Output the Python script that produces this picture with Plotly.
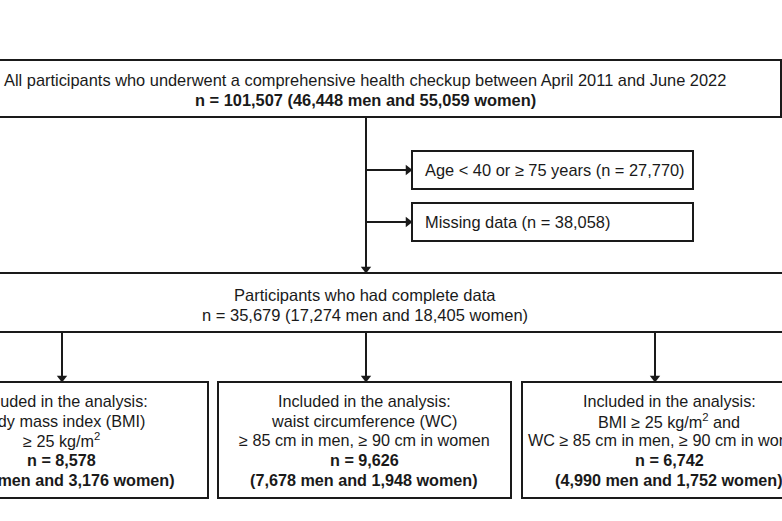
import plotly.graph_objects as go

# ---- content ----
top_lines = ["All participants who underwent a comprehensive health checkup between April 2011 and June 2022",
             "<b>n = 101,507 (46,448 men and 55,059 women)</b>"]
excl_labels = ["Age < 40 or ≥ 75 years (n = 27,770)", "Missing data (n = 38,058)"]
mid_lines = ["Participants who had complete data",
             "n = 35,679 (17,274 men and 18,405 women)"]
group_lines = [
    ["Included in the analysis:", "Body mass index (BMI)", "≥ 25 kg/m<sup>2</sup>",
     "<b>n = 8,578</b>", "<b>(5,402 men and 3,176 women)</b>"],
    ["Included in the analysis:", "waist circumference (WC)", "≥ 85 cm in men, ≥ 90 cm in women",
     "<b>n = 9,626</b>", "<b>(7,678 men and 1,948 women)</b>"],
    ["Included in the analysis:", "BMI ≥ 25 kg/m<sup>2</sup> and", "WC ≥ 85 cm in men, ≥ 90 cm in women",
     "<b>n = 6,742</b>", "<b>(4,990 men and 1,752 women)</b>"],
]

# ---- layout geometry (pixels) ----
W, H = 782, 521
FONT = "Liberation Sans, Arial, sans-serif"
COL = "#1a1a1a"
top_box = (-5, 60, 781, 117)
excl_boxes = [(412, 151, 693, 189), (412, 203, 693, 241)]
mid_box = (-5, 273, 790, 332)
grp_boxes = [(-90, 382, 208, 498), (218, 382, 511, 498), (522, 382, 815, 498)]
grp_text_x = [61, 364, 669]
grp_arrow_x = [62, 366, 655]
spine_x = 366

fig = go.Figure()

shapes = []
def rect(b):
    shapes.append(dict(type="rect", xref="x", yref="y", x0=b[0], y0=b[1], x1=b[2], y1=b[3],
                       line=dict(color=COL, width=2), fillcolor="rgba(0,0,0,0)"))
def line(x0, y0, x1, y1):
    shapes.append(dict(type="line", xref="x", yref="y", x0=x0, y0=y0, x1=x1, y1=y1,
                       line=dict(color=COL, width=2)))
rect(top_box)
for b in excl_boxes:
    rect(b)
rect(mid_box)
for b in grp_boxes:
    rect(b)

heads_down_x, heads_down_y = [], []
heads_right_x, heads_right_y = [], []

line(spine_x, top_box[3], spine_x, mid_box[1] - 3)
heads_down_x.append(spine_x); heads_down_y.append(mid_box[1] - 4)
for b in excl_boxes:
    cy = (b[1] + b[3]) / 2
    line(spine_x, cy, b[0] - 3, cy)
    heads_right_x.append(b[0] - 4); heads_right_y.append(cy)
for ax_x in grp_arrow_x:
    line(ax_x, mid_box[3], ax_x, grp_boxes[0][1] - 3)
    heads_down_x.append(ax_x); heads_down_y.append(grp_boxes[0][1] - 4)

fig.add_trace(go.Scatter(x=heads_down_x, y=heads_down_y, mode="markers",
                         marker=dict(symbol="triangle-down", size=9, color=COL, line=dict(width=0)),
                         hoverinfo="skip", showlegend=False, cliponaxis=False))
fig.add_trace(go.Scatter(x=heads_right_x, y=heads_right_y, mode="markers",
                         marker=dict(symbol="triangle-right", size=9, color=COL, line=dict(width=0)),
                         hoverinfo="skip", showlegend=False, cliponaxis=False))

ann = []
def text(x, y, t, size, xanchor="center"):
    ann.append(dict(x=x, y=y, xref="x", yref="y", text=t, showarrow=False, xanchor=xanchor,
                    yanchor="middle", font=dict(family=FONT, size=size, color=COL)))

text(365, 80, top_lines[0], 16.4)
text(365, 100, top_lines[1], 16.4)
for b, lab in zip(excl_boxes, excl_labels):
    cy = (b[1] + b[3]) / 2
    text(b[0] + 11, cy, lab, 16.4, xanchor="left")
text(365, 295, mid_lines[0], 16.5)
text(365, 315, mid_lines[1], 16.5)
for tx, lines in zip(grp_text_x, group_lines):
    for i, l in enumerate(lines):
        text(tx, 401 + i * 19.7, l, 16.2)

fig.update_layout(
    width=W, height=H, margin=dict(l=0, r=0, t=0, b=0),
    paper_bgcolor="white", plot_bgcolor="white",
    xaxis=dict(range=[0, W], visible=False, fixedrange=True),
    yaxis=dict(range=[H, 0], visible=False, fixedrange=True),
    shapes=shapes, annotations=ann, showlegend=False,
)
fig.write_html("out.html", config={"displayModeBar": False},
               post_script="document.body.style.margin='0';document.body.style.overflow='hidden';")
